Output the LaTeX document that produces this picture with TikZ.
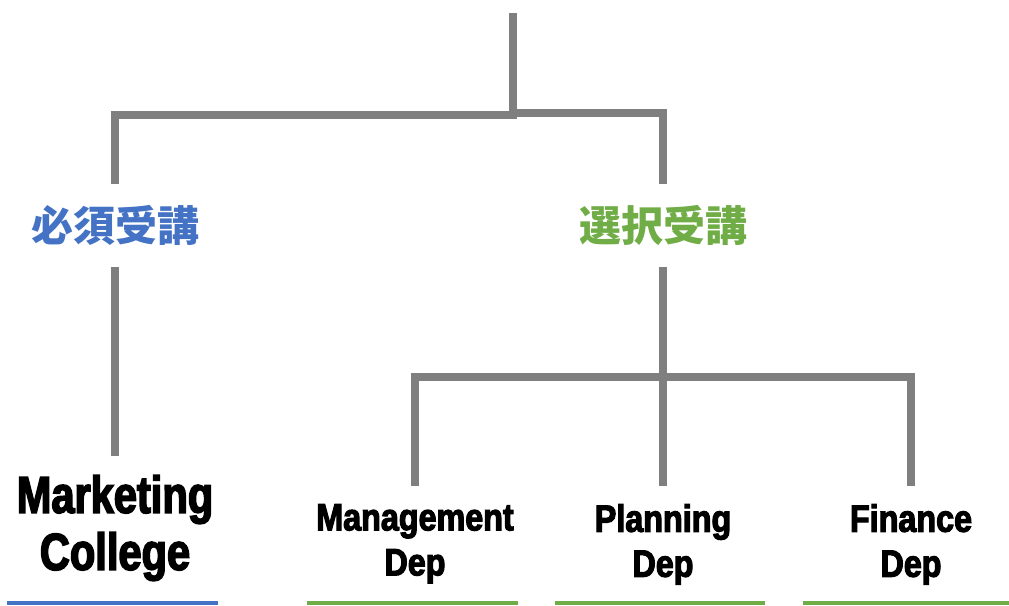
\documentclass[tikz,border=0pt]{standalone}
\usepackage{fontspec}
\newfontfamily\cjk{Noto Sans CJK JP}
\newfontfamily\imp{Liberation Sans}[FakeStretch=0.8, BoldFeatures={FakeBold=3}]
\newfontfamily\impd{Liberation Sans}[FakeStretch=0.85, BoldFeatures={FakeBold=3}]
\definecolor{linegray}{HTML}{7F7F7F}
\definecolor{reqblue}{HTML}{4472C4}
\definecolor{optgreen}{HTML}{70AD47}
\tikzset{
  conn/.style={draw=linegray, line width=8pt, line cap=butt, line join=miter},
  cat/.style={font=\cjk\bfseries\fontsize{42}{48}\selectfont, inner sep=0pt, minimum height=83pt, minimum width=170pt},
  big/.style={font=\imp\bfseries\fontsize{52}{57}\selectfont, align=center, anchor=north, inner xsep=0pt, inner ysep=19pt},
  dep/.style={font=\impd\bfseries\fontsize{38}{45}\selectfont, align=center, anchor=north, inner xsep=0pt, inner ysep=18pt},
  uline/.style={line width=4pt}
}
\begin{document}
\begin{tikzpicture}[x=1pt, y=-1pt]
\useasboundingbox (0,0) rectangle (1009,605);
% nodes
\coordinate (top) at (513,13);
\coordinate (hubB) at (513,119);
\coordinate (hubL) at (517,115);
\coordinate (hubR) at (517,113);
\node[cat, text=reqblue] (req) at (115,225.5) {必須受講};
\node[cat, text=optgreen] (opt) at (663,225.5) {選択受講};
\node[big] (mkt) at (115,456) {Marketing\\College};
\node[dep] (mgmt) at (415,486) {Management\\Dep};
\node[dep] (plan) at (663,486) {Planning\\Dep};
\node[dep] (fin) at (911,486) {Finance\\Dep};
\coordinate (bar) at (663,377);
% connectors
\draw[conn] (top) -- (hubB);
\draw[conn] (req.north) |- (hubL);
\draw[conn] (opt.north) |- (hubR);
\draw[conn] (req.south) -- (mkt.north);
\draw[conn] (opt.south) -- (plan.north);
\draw[conn] (mgmt.north) |- (bar) -| (fin.north);
% underlines
\draw[uline, draw=reqblue] (7,603) -- (218,603);
\draw[uline, draw=optgreen] (307,603) -- (518,603);
\draw[uline, draw=optgreen] (555,603) -- (765,603);
\draw[uline, draw=optgreen] (803,603) -- (1009,603);
\end{tikzpicture}
\end{document}
